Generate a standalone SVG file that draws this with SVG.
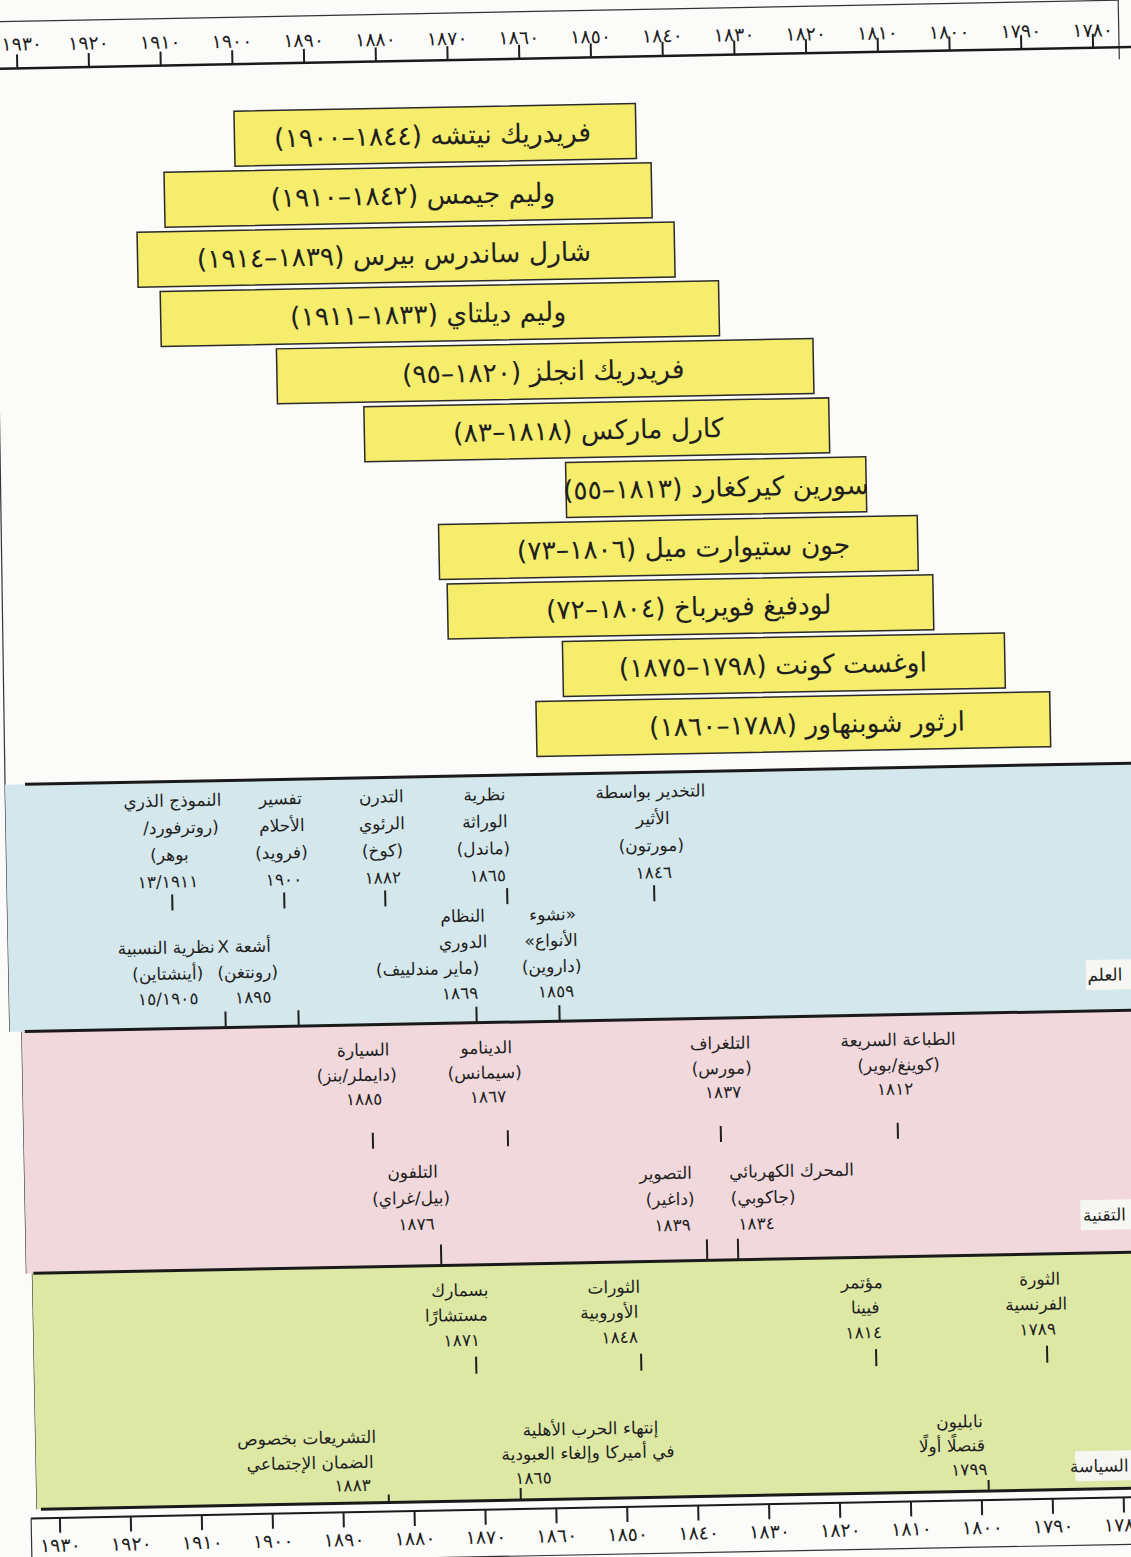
<svg xmlns="http://www.w3.org/2000/svg" width="1131" height="1557" viewBox="0 0 1131 1557">
<defs>
<style>
.t{font-family:"DejaVu Sans",sans-serif;fill:#1f1f1f;text-anchor:middle;direction:rtl}
.ev{font-size:17px}
.bx{font-size:26.5px}
.ax{font-family:"DejaVu Sans",sans-serif;fill:#1f1f1f;text-anchor:middle;font-size:19px;letter-spacing:2.5px}
.bl{font-size:17px}
.tk{stroke:#1f1f1f;stroke-width:2}
.sep{stroke:#1a1a1a;stroke-width:3}
.frm{stroke:#333;stroke-width:1.2;fill:none}
.box{fill:#f5ed6b;stroke:#2a2a2a;stroke-width:1.5}
.lbl{fill:#f6f6f2}
</style>
</defs>
<rect width="1131" height="1557" fill="#fbfbf9"/>
<g id="page" transform="rotate(-1.1 565 778)">
<g id="frame">
<line class="frm" x1="-20" y1="11" x2="1133" y2="11"/>
<line class="frm" x1="1133" y1="0" x2="1133" y2="70"/>
<line class="frm" x1="8" y1="58" x2="5" y2="774"/>
<line class="frm" x1="5" y1="774" x2="5" y2="1021"/>
<line class="frm" x1="17" y1="1021" x2="17" y2="1263"/>
<line class="frm" x1="23" y1="1263" x2="23" y2="1499"/>
<line class="frm" x1="17" y1="1508" x2="17" y2="1580"/>
<line class="frm" x1="16" y1="1555" x2="1170" y2="1555"/>
</g>
<g id="axis-top">
<line class="sep" x1="-30" y1="58" x2="1170" y2="58" style="stroke-width:2.5"/>
<g class="tk">
<line x1="31" y1="58" x2="31" y2="44"/><line x1="102.7" y1="58" x2="102.7" y2="44"/><line x1="174.5" y1="58" x2="174.5" y2="44"/><line x1="246.2" y1="58" x2="246.2" y2="44"/><line x1="317.9" y1="58" x2="317.9" y2="44"/><line x1="389.7" y1="58" x2="389.7" y2="44"/><line x1="461.4" y1="58" x2="461.4" y2="44"/><line x1="533.1" y1="58" x2="533.1" y2="44"/><line x1="604.8" y1="58" x2="604.8" y2="44"/><line x1="676.6" y1="58" x2="676.6" y2="44"/><line x1="748.3" y1="58" x2="748.3" y2="44"/><line x1="820" y1="58" x2="820" y2="44"/><line x1="891.8" y1="58" x2="891.8" y2="44"/><line x1="963.5" y1="58" x2="963.5" y2="44"/><line x1="1035.2" y1="58" x2="1035.2" y2="44"/><line x1="1107" y1="58" x2="1107" y2="44"/>
</g>
<g class="ax">
<text x="36" y="40.2">١٩٣٠</text><text x="102.7" y="40.6">١٩٢٠</text><text x="174.5" y="41.1">١٩١٠</text><text x="246.2" y="41.6">١٩٠٠</text><text x="317.9" y="42">١٨٩٠</text><text x="389.7" y="42.5">١٨٨٠</text><text x="461.4" y="42.9">١٨٧٠</text><text x="533.1" y="43.4">١٨٦٠</text><text x="604.8" y="43.8">١٨٥٠</text><text x="676.6" y="44.3">١٨٤٠</text><text x="748.3" y="44.7">١٨٣٠</text><text x="820" y="45.2">١٨٢٠</text><text x="891.8" y="45.6">١٨١٠</text><text x="963.5" y="46.1">١٨٠٠</text><text x="1035.2" y="46.5">١٧٩٠</text><text x="1107" y="47">١٧٨٠</text>
</g>
</g>
<g id="philosophers">
<g id="p-nietzsche"><rect class="box" x="246.8" y="105" width="401.5" height="55"/><text class="t bx" x="445" y="142">فريدريك نيتشه (١٨٤٤–١٩٠٠)</text></g>
<g id="p-james"><rect class="box" x="175.7" y="164.6" width="487.2" height="55"/><text class="t bx" x="424" y="201.6">وليم جيمس (١٨٤٢–١٩١٠)</text></g>
<g id="p-peirce"><rect class="box" x="147.6" y="224.2" width="537.1" height="55"/><text class="t bx" x="404" y="261.2">شارل ساندرس بيرس (١٨٣٩–١٩١٤)</text></g>
<g id="p-dilthey"><rect class="box" x="169.6" y="283.8" width="558.4" height="55"/><text class="t bx" x="437" y="320.8">وليم ديلتاي (١٨٣٣–١٩١١)</text></g>
<g id="p-engels"><rect class="box" x="284.7" y="343.4" width="536.6" height="55"/><text class="t bx" x="551" y="380.4">فريدريك انجلز (١٨٢٠–٩٥)</text></g>
<g id="p-marx"><rect class="box" x="371" y="403" width="464.9" height="55"/><text class="t bx" x="595" y="440">كارل ماركس (١٨١٨–٨٣)</text></g>
<g id="p-kierkegaard"><rect class="box" x="571.6" y="462.6" width="300.2" height="55"/><text class="t bx" x="721.5" y="499.6">سورين كيركغارد (١٨١٣–٥٥)</text></g>
<g id="p-mill"><rect class="box" x="443.4" y="522.2" width="478.8" height="55"/><text class="t bx" x="688" y="559.2">جون ستيوارت ميل (١٨٠٦–٧٣)</text></g>
<g id="p-feuerbach"><rect class="box" x="450.9" y="581.8" width="485.7" height="55"/><text class="t bx" x="692" y="618.8">لودفيغ فويرباخ (١٨٠٤–٧٢)</text></g>
<g id="p-comte"><rect class="box" x="565" y="641.4" width="442" height="55"/><text class="t bx" x="775" y="678.4">اوغست كونت (١٧٩٨–١٨٧٥)</text></g>
<g id="p-schopenhauer"><rect class="box" x="537.4" y="701" width="513.8" height="55"/><text class="t bx" x="808" y="738">ارثور شوبنهاور (١٧٨٨–١٨٦٠)</text></g>
</g>
<g id="bands">
<rect x="5" y="774" width="1170" height="247" fill="#d4e7ec"/>
<rect x="17" y="1021" width="1160" height="242" fill="#f1d8dd"/>
<rect x="23" y="1263" width="1160" height="236" fill="#dde8a5"/>
<line class="sep" x1="25" y1="774" x2="1175" y2="774"/>
<line class="sep" x1="20" y1="1021" x2="1175" y2="1021"/>
<line class="sep" x1="24" y1="1263" x2="1175" y2="1263"/>
<line class="sep" x1="27" y1="1499" x2="1175" y2="1499"/>
<g id="band-science"><rect class="lbl" x="1082" y="970" width="93" height="30"/><text class="t bl" x="1101" y="991">العلم</text></g>
<g id="band-tech"><rect class="lbl" x="1072" y="1210" width="103" height="30"/><text class="t bl" x="1096" y="1231">التقنية</text></g>
<g id="band-politics"><rect class="lbl" x="1062" y="1461" width="113" height="30"/><text class="t bl" x="1086" y="1482">السياسة</text></g>
</g>
<g id="events" class="t ev">
<g id="e-rutherford"><text x="172" y="799">النموذج الذري</text><text x="180" y="826">(روترفورد/</text><text x="168" y="853">بوهر)</text><text x="166" y="880">١٣/١٩١١</text></g>
<g id="e-freud"><text x="280" y="799">تفسير</text><text x="281" y="826">الأحلام</text><text x="280" y="853">(فرويد)</text><text x="282" y="880">١٩٠٠</text></g>
<g id="e-koch"><text x="381" y="799">التدرن</text><text x="381" y="826">الرئوي</text><text x="381" y="853">(كوخ)</text><text x="381" y="880">١٨٨٢</text></g>
<g id="e-mendel"><text x="484" y="799">نظرية</text><text x="484" y="826">الوراثة</text><text x="482" y="853">(ماندل)</text><text x="486" y="880">١٨٦٥</text></g>
<g id="e-morton"><text x="650" y="799">التخدير بواسطة</text><text x="652" y="826">الأثير</text><text x="650" y="853">(مورتون)</text><text x="652" y="880">١٨٤٦</text></g>
<g id="e-darwin"><text x="550" y="920">«نشوء</text><text x="548" y="946">الأنواع»</text><text x="548" y="972">(داروين)</text><text x="552" y="997">١٨٥٩</text></g>
<g id="e-mendeleev"><text x="460" y="920">النظام</text><text x="460" y="946">الدوري</text><text x="424" y="972">(ماير مندلييف)</text><text x="456" y="997">١٨٦٩</text></g>
<g id="e-rontgen"><text x="241" y="946">أشعة X</text><text x="244" y="972">(رونتغن)</text><text x="249" y="997">١٨٩٥</text></g>
<g id="e-einstein"><text x="163" y="946">نظرية النسبية</text><text x="164" y="972">(أينشتاين)</text><text x="164" y="997">١٥/١٩٠٥</text></g>
<g id="e-printing"><text x="893" y="1052">الطباعة السريعة</text><text x="893" y="1077">(كوينغ/بوير)</text><text x="889" y="1101">١٨١٢</text></g>
<g id="e-telegraph"><text x="715" y="1052">التلغراف</text><text x="716" y="1077">(مورس)</text><text x="717" y="1101">١٨٣٧</text></g>
<g id="e-dynamo"><text x="481" y="1052">الدينامو</text><text x="479" y="1077">(سيمانس)</text><text x="482" y="1101">١٨٦٧</text></g>
<g id="e-car"><text x="358" y="1052">السيارة</text><text x="351" y="1077">(دايملر/بنز)</text><text x="358" y="1101">١٨٨٥</text></g>
<g id="e-telephone"><text x="405" y="1175">التلفون</text><text x="403" y="1201">(بيل/غراي)</text><text x="408" y="1227">١٨٧٦</text></g>
<g id="e-photo"><text x="658" y="1181">التصوير</text><text x="662" y="1207">(داغير)</text><text x="664" y="1233">١٨٣٩</text></g>
<g id="e-motor"><text x="784" y="1181">المحرك الكهربائي</text><text x="755" y="1207">(جاكوبي)</text><text x="748" y="1233">١٨٣٤</text></g>
<g id="e-frenchrev"><text x="1030" y="1294">الثورة</text><text x="1026" y="1319">الفرنسية</text><text x="1027" y="1344">١٧٨٩</text></g>
<g id="e-vienna"><text x="852" y="1294">مؤتمر</text><text x="855" y="1319">فيينا</text><text x="853" y="1344">١٨١٤</text></g>
<g id="e-1848"><text x="604" y="1294">الثورات</text><text x="599" y="1319">الأوروبية</text><text x="609" y="1344">١٨٤٨</text></g>
<g id="e-bismarck"><text x="450" y="1294">بسمارك</text><text x="446" y="1319">مستشارًا</text><text x="451" y="1344">١٨٧١</text></g>
<g id="e-napoleon"><text x="947" y="1435">نابليون</text><text x="939" y="1459">قنصلًا أولًا</text><text x="956" y="1483">١٧٩٩</text></g>
<g id="e-civilwar"><text x="578" y="1435">إنتهاء الحرب الأهلية</text><text x="575" y="1459">في أميركا وإلغاء العبودية</text><text x="520" y="1483">١٨٦٥</text></g>
<g id="e-social"><text x="294" y="1439">التشريعات بخصوص</text><text x="297" y="1464">الضمان الإجتماعي</text><text x="339" y="1487">١٨٨٣</text></g>
</g>
<g id="connectors" class="tk">
<line x1="170" y1="887" x2="170" y2="903"/>
<line x1="282" y1="887" x2="282" y2="903"/>
<line x1="383" y1="887" x2="383" y2="903"/>
<line x1="505" y1="887" x2="505" y2="903"/>
<line x1="652" y1="887" x2="652" y2="903"/>
<line x1="555" y1="1005" x2="555" y2="1021"/>
<line x1="472" y1="1005" x2="472" y2="1021"/>
<line x1="294" y1="1005" x2="294" y2="1021"/>
<line x1="221" y1="1005" x2="221" y2="1021"/>
<line x1="891" y1="1129" x2="891" y2="1145"/>
<line x1="714" y1="1129" x2="714" y2="1145"/>
<line x1="501" y1="1129" x2="501" y2="1145"/>
<line x1="366" y1="1129" x2="366" y2="1145"/>
<line x1="432" y1="1242" x2="432" y2="1263"/>
<line x1="698" y1="1242" x2="698" y2="1263"/>
<line x1="729" y1="1242" x2="729" y2="1263"/>
<line x1="1036" y1="1355" x2="1036" y2="1372"/>
<line x1="865" y1="1355" x2="865" y2="1372"/>
<line x1="630" y1="1355" x2="630" y2="1372"/>
<line x1="465" y1="1355" x2="465" y2="1372"/>
<line x1="975" y1="1488" x2="975" y2="1499"/>
<line x1="507" y1="1487" x2="507" y2="1499"/>
<line x1="375" y1="1491" x2="375" y2="1499"/>
</g>
<g id="axis-bottom">
<line class="sep" x1="17" y1="1508" x2="1175" y2="1508" style="stroke-width:2"/>
<g class="tk">
<line x1="45.8" y1="1508" x2="45.8" y2="1523"/><line x1="116.7" y1="1508" x2="116.7" y2="1523"/><line x1="187.7" y1="1508" x2="187.7" y2="1523"/><line x1="258.6" y1="1508" x2="258.6" y2="1523"/><line x1="329.5" y1="1508" x2="329.5" y2="1523"/><line x1="400.5" y1="1508" x2="400.5" y2="1523"/><line x1="471.4" y1="1508" x2="471.4" y2="1523"/><line x1="542.3" y1="1508" x2="542.3" y2="1523"/><line x1="613.2" y1="1508" x2="613.2" y2="1523"/><line x1="684.2" y1="1508" x2="684.2" y2="1523"/><line x1="755.1" y1="1508" x2="755.1" y2="1523"/><line x1="826" y1="1508" x2="826" y2="1523"/><line x1="897" y1="1508" x2="897" y2="1523"/><line x1="967.9" y1="1508" x2="967.9" y2="1523"/><line x1="1038.8" y1="1508" x2="1038.8" y2="1523"/><line x1="1109.8" y1="1508" x2="1109.8" y2="1523"/>
</g>
<g class="ax">
<text x="45.8" y="1542">١٩٣٠</text><text x="116.7" y="1542">١٩٢٠</text><text x="187.7" y="1542">١٩١٠</text><text x="258.6" y="1542">١٩٠٠</text><text x="329.5" y="1542">١٨٩٠</text><text x="400.5" y="1542">١٨٨٠</text><text x="471.4" y="1542">١٨٧٠</text><text x="542.3" y="1542">١٨٦٠</text><text x="613.2" y="1542">١٨٥٠</text><text x="684.2" y="1542">١٨٤٠</text><text x="755.1" y="1542">١٨٣٠</text><text x="826" y="1542">١٨٢٠</text><text x="897" y="1542">١٨١٠</text><text x="967.9" y="1542">١٨٠٠</text><text x="1038.8" y="1542">١٧٩٠</text><text x="1109.8" y="1542">١٧٨٠</text>
</g>
</g>
</g>
</svg>
